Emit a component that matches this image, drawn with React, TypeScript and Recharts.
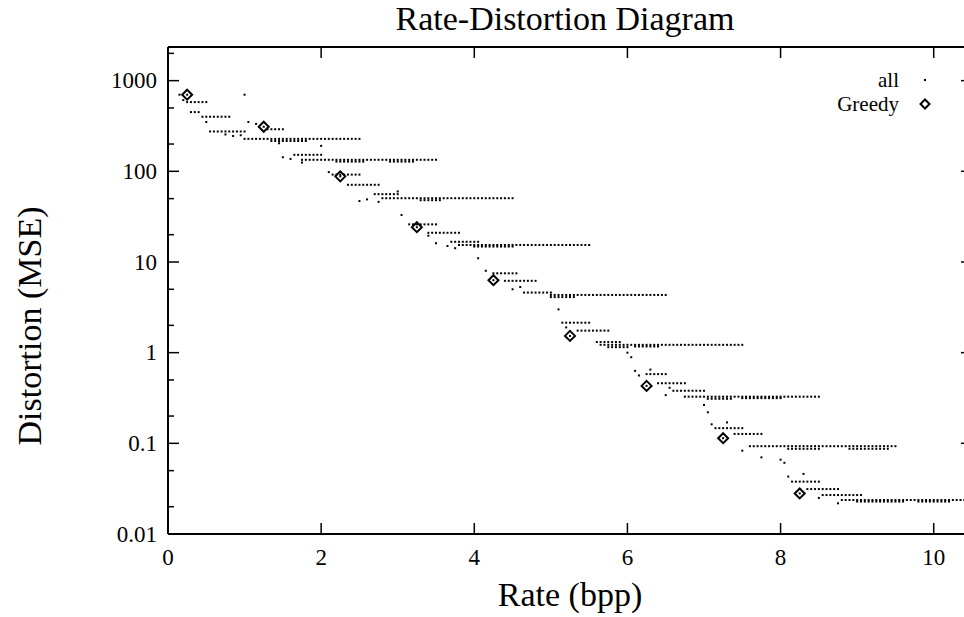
import React from 'react'
import { ScatterChart, Scatter, XAxis, YAxis, ReferenceLine, Legend, Label } from 'recharts'

const FONT = '"Liberation Serif", "Times New Roman", serif'

// frame geometry (gnuplot style box; the right edge sits just past the page edge)
const CHART_W = 1000
const CHART_H = 617
const PLOT_LEFT = 168
const PLOT_TOP = 47
const PLOT_RIGHT = 972
const PLOT_BOTTOM = 534
const MAJOR_TICK = 11
const MINOR_TICK = 6

const X_MAX = 10.5
const Y_MIN = 0.01
const Y_MAX = 2350
const X_TICKS = [0, 2, 4, 6, 8, 10]
const Y_TICKS = [0.01, 0.02, 0.05, 0.1, 0.2, 0.5, 1, 2, 5, 10, 20, 50, 100, 200, 500, 1000, 2000]
const Y_LABELED = [0.01, 0.1, 1, 10, 100, 1000]

// rates (bpp) the coder was evaluated at
const RATE_GRID = [
  0, 0.05, 0.1, 0.15, 0.2, 0.25, 0.3, 0.35, 0.4, 0.45, 0.5, 0.55, 0.6, 0.65, 0.7, 0.75, 0.8, 0.85, 0.9, 0.95,
  1, 1.05, 1.1, 1.15, 1.2, 1.25, 1.3, 1.35, 1.4, 1.45, 1.5, 1.55, 1.6, 1.65, 1.7, 1.75, 1.8, 1.85, 1.9, 1.95,
  2, 2.05, 2.1, 2.15, 2.2, 2.25, 2.3, 2.35, 2.4, 2.45, 2.5, 2.55, 2.6, 2.65, 2.7, 2.75, 2.8, 2.85, 2.9, 2.95,
  3, 3.05, 3.1, 3.15, 3.2, 3.25, 3.3, 3.35, 3.4, 3.45, 3.5, 3.55, 3.6, 3.65, 3.7, 3.75, 3.8, 3.85, 3.9, 3.95,
  4, 4.05, 4.1, 4.15, 4.2, 4.25, 4.3, 4.35, 4.4, 4.45, 4.5, 4.55, 4.6, 4.65, 4.7, 4.75, 4.8, 4.85, 4.9, 4.95,
  5, 5.05, 5.1, 5.15, 5.2, 5.25, 5.3, 5.35, 5.4, 5.45, 5.5, 5.55, 5.6, 5.65, 5.7, 5.75, 5.8, 5.85, 5.9, 5.95,
  6, 6.05, 6.1, 6.15, 6.2, 6.25, 6.3, 6.35, 6.4, 6.45, 6.5, 6.55, 6.6, 6.65, 6.7, 6.75, 6.8, 6.85, 6.9, 6.95,
  7, 7.05, 7.1, 7.15, 7.2, 7.25, 7.3, 7.35, 7.4, 7.45, 7.5, 7.55, 7.6, 7.65, 7.7, 7.75, 7.8, 7.85, 7.9, 7.95,
  8, 8.05, 8.1, 8.15, 8.2, 8.25, 8.3, 8.35, 8.4, 8.45, 8.5, 8.55, 8.6, 8.65, 8.7, 8.75, 8.8, 8.85, 8.9, 8.95,
  9, 9.05, 9.1, 9.15, 9.2, 9.25, 9.3, 9.35, 9.4, 9.45, 9.5, 9.55, 9.6, 9.65, 9.7, 9.75, 9.8, 9.85, 9.9, 9.95,
  10, 10.05, 10.1, 10.15, 10.2, 10.25, 10.3, 10.35, 10.4, 10.45,
]

// "all" runs: [mse, first rate, last rate]
type Run = [number, number, number]

const RUNS_230: Run[] = [
  [700, 0.15, 0.15], [610, 0.2, 0.2], [580, 0.25, 0.5], [450, 0.3, 0.4], [400, 0.45, 0.8],
  [350, 0.5, 0.5], [275, 0.55, 1.0], [255, 0.75, 0.75], [245, 0.85, 0.85], [250, 0.95, 0.95],
  [228, 1.0, 2.5], [216, 1.35, 1.8], [204, 1.45, 1.45], [700, 1.0, 1.0], [350, 1.05, 1.05],
  [333, 1.15, 1.15], [291, 1.3, 1.5], [191, 2.0, 2.0],
]

const RUNS_134: Run[] = [
  [143, 1.5, 1.5], [137, 1.6, 1.6], [152, 1.65, 2.0], [134, 1.75, 3.5], [128, 2.2, 2.55],
  [128, 2.9, 3.2], [125, 1.75, 1.75], [98, 2.1, 2.1], [92, 2.15, 2.5], [71, 2.35, 2.75],
  [56, 2.7, 3.0], [60, 3.0, 3.0],
]

const RUNS_50: Run[] = [
  [47, 2.5, 2.5], [49, 2.6, 2.6], [46, 2.75, 2.75], [50.5, 2.8, 4.5], [48, 3.3, 3.55],
  [33, 3.05, 3.05], [26, 3.15, 3.5], [21, 3.4, 3.8], [19.5, 3.4, 3.4],
]

const RUNS_15: Run[] = [
  [16.1, 3.5, 3.5], [15, 3.65, 3.65], [16.7, 3.7, 4.05], [14.2, 3.75, 3.75], [15.4, 3.8, 5.5],
  [14.8, 4.0, 4.5], [11, 4.05, 4.05], [8, 4.15, 4.15], [7.5, 4.25, 4.55], [6.2, 4.4, 4.8],
  [5.0, 4.5, 4.5], [5.3, 4.6, 4.6], [4.6, 4.65, 5.0],
]

const RUNS_4: Run[] = [
  [4.33, 5.0, 6.5], [4.1, 5.0, 5.3], [3.0, 5.1, 5.1], [2.14, 5.15, 5.5], [1.9, 5.2, 5.2],
  [1.75, 5.35, 5.75], [1.31, 5.6, 5.9],
]

const RUNS_1: Run[] = [
  [1.22, 5.65, 7.5], [1.15, 5.75, 6.0], [1.17, 6.1, 6.4], [1.0, 6.0, 6.0], [0.89, 6.05, 6.05],
  [0.63, 6.1, 6.1], [0.56, 6.15, 6.15], [0.65, 6.3, 6.3], [0.58, 6.25, 6.5], [0.46, 6.4, 6.75],
  [0.41, 6.55, 6.55], [0.34, 6.5, 6.5], [0.38, 6.6, 7.0],
]

const RUNS_03: Run[] = [
  [0.327, 6.75, 8.5], [0.31, 7.05, 7.35], [0.315, 7.5, 8.0], [0.265, 7.0, 7.0], [0.22, 7.05, 7.05],
  [0.162, 7.1, 7.1], [0.17, 7.3, 7.3], [0.147, 7.15, 7.5], [0.127, 7.4, 7.75], [0.083, 7.5, 7.5],
]

const RUNS_009: Run[] = [
  [0.093, 7.6, 9.5], [0.087, 8.1, 8.5], [0.087, 8.9, 9.4], [0.07, 7.75, 7.75], [0.066, 8.0, 8.0],
  [0.061, 8.05, 8.05], [0.043, 8.1, 8.1], [0.046, 8.3, 8.3], [0.0378, 8.15, 8.5], [0.0313, 8.35, 8.75],
  [0.0269, 8.55, 9.05], [0.025, 8.5, 8.5], [0.0218, 8.75, 8.75],
]

const RUNS_002: Run[] = [
  [0.0237, 8.8, 10.45], [0.0228, 9.0, 9.6], [0.0228, 9.8, 10.2],
]

const GREEDY_RATE = [0.25, 1.25, 2.25, 3.25, 4.25, 5.25, 6.25, 7.25, 8.25]
const GREEDY_MSE = [700, 310, 88, 24.2, 6.3, 1.53, 0.43, 0.114, 0.028]

const runsToPoints = (runs: Run[]) =>
  runs.flatMap(([mse, from, to]) =>
    RATE_GRID.filter(r => r >= from - 1e-9 && r <= to + 1e-9).map(rate => ({ rate, mse }))
  )

const greedyData = GREEDY_RATE.map((rate, i) => ({ rate, mse: GREEDY_MSE[i] }))

const allData = [
  ...runsToPoints([
    ...RUNS_230, ...RUNS_134, ...RUNS_50, ...RUNS_15, ...RUNS_4,
    ...RUNS_1, ...RUNS_03, ...RUNS_009, ...RUNS_002,
  ]),
  ...greedyData,
]

const DotShape = (props: any) => (
  <rect x={props.cx - 1} y={props.cy - 1} width={2} height={2} fill="#000" />
)

const DiamondShape = (props: any) => {
  const { cx, cy } = props
  const r = 5
  return (
    <polygon
      points={`${cx},${cy - r} ${cx + r},${cy} ${cx},${cy + r} ${cx - r},${cy}`}
      fill="none"
      stroke="#000"
      strokeWidth={2}
    />
  )
}

// inward ticks on bottom and top, label below
const XTick = (props: any) => {
  const { x, payload } = props
  return (
    <g>
      <line x1={x} x2={x} y1={PLOT_BOTTOM} y2={PLOT_BOTTOM - MAJOR_TICK} stroke="#000" strokeWidth={1.5} />
      <line x1={x} x2={x} y1={PLOT_TOP} y2={PLOT_TOP + MAJOR_TICK} stroke="#000" strokeWidth={1.5} />
      <text x={x} y={PLOT_BOTTOM + 31} textAnchor="middle" fontFamily={FONT} fontSize={23} fill="#000">
        {payload.value}
      </text>
    </g>
  )
}

// inward ticks on left and right, labels only on decades
const YTick = (props: any) => {
  const { y, payload } = props
  const major = Y_LABELED.includes(payload.value)
  const len = major ? MAJOR_TICK : MINOR_TICK
  return (
    <g>
      <line x1={PLOT_LEFT} x2={PLOT_LEFT + len} y1={y} y2={y} stroke="#000" strokeWidth={1.5} />
      <line x1={PLOT_RIGHT} x2={PLOT_RIGHT - len} y1={y} y2={y} stroke="#000" strokeWidth={1.5} />
      {major && (
        <text x={PLOT_LEFT - 11} y={y} dy="0.34em" textAnchor="end" fontFamily={FONT} fontSize={23} fill="#000">
          {String(payload.value)}
        </text>
      )}
    </g>
  )
}

const LegendBox = () => {
  const row: React.CSSProperties = {
    display: 'flex',
    alignItems: 'center',
    justifyContent: 'flex-end',
    height: 24,
  }
  return (
    <div style={{ fontFamily: FONT, fontSize: 21, color: '#000', lineHeight: '24px' }}>
      <div style={row}>
        <span>all</span>
        <svg width={12} height={12} style={{ marginLeft: 20 }}>
          <rect x={5} y={5} width={2} height={2} fill="#000" />
        </svg>
      </div>
      <div style={row}>
        <span>Greedy</span>
        <svg width={12} height={12} style={{ marginLeft: 20 }}>
          <polygon points="6,1.5 10.5,6 6,10.5 1.5,6" fill="none" stroke="#000" strokeWidth={2} />
        </svg>
      </div>
    </div>
  )
}

export default function App() {
  return (
    <div
      style={{
        position: 'absolute',
        left: 0,
        top: 0,
        width: 964,
        height: 617,
        overflow: 'hidden',
        background: '#fff',
      }}
    >
      <div
        style={{
          position: 'absolute',
          left: 165,
          width: 800,
          top: 1,
          textAlign: 'center',
          fontFamily: FONT,
          fontSize: 34,
          lineHeight: '36px',
          color: '#000',
          zIndex: 1,
        }}
      >
        Rate-Distortion Diagram
      </div>
      <ScatterChart
        width={CHART_W}
        height={CHART_H}
        margin={{ top: PLOT_TOP, right: CHART_W - PLOT_RIGHT, bottom: 0, left: 0 }}
      >
        <XAxis
          type="number"
          dataKey="rate"
          domain={[0, X_MAX]}
          ticks={X_TICKS}
          interval={0}
          allowDataOverflow
          height={CHART_H - PLOT_BOTTOM}
          tickSize={0}
          tickMargin={0}
          tickLine={false}
          tick={<XTick />}
          axisLine={{ stroke: '#000', strokeWidth: 2 }}
        >
          <Label
            content={() => (
              <text x={(PLOT_LEFT + PLOT_RIGHT) / 2} y={606} textAnchor="middle" fontFamily={FONT} fontSize={34} fill="#000">
                Rate (bpp)
              </text>
            )}
          />
        </XAxis>
        <YAxis
          type="number"
          dataKey="mse"
          scale="log"
          domain={[Y_MIN, Y_MAX]}
          ticks={Y_TICKS}
          interval={0}
          allowDataOverflow
          width={PLOT_LEFT}
          tickSize={0}
          tickMargin={0}
          tickLine={false}
          tick={<YTick />}
          axisLine={{ stroke: '#000', strokeWidth: 2 }}
        >
          <Label
            content={() => (
              <text
                x={41}
                y={326}
                transform="rotate(-90, 41, 326)"
                textAnchor="middle"
                fontFamily={FONT}
                fontSize={34}
                fill="#000"
              >
                Distortion (MSE)
              </text>
            )}
          />
        </YAxis>
        <ReferenceLine y={Y_MAX} stroke="#000" strokeWidth={2} />
        <ReferenceLine x={X_MAX} stroke="#000" strokeWidth={2} />
        <Legend
          layout="vertical"
          align="center"
          verticalAlign="middle"
          wrapperStyle={{ top: 68, left: 780, width: 151 }}
          content={<LegendBox />}
        />
        <Scatter name="all" data={allData} fill="#000" shape={DotShape} isAnimationActive={false} />
        <Scatter name="Greedy" data={greedyData} fill="none" shape={DiamondShape} isAnimationActive={false} />
      </ScatterChart>
    </div>
  )
}
